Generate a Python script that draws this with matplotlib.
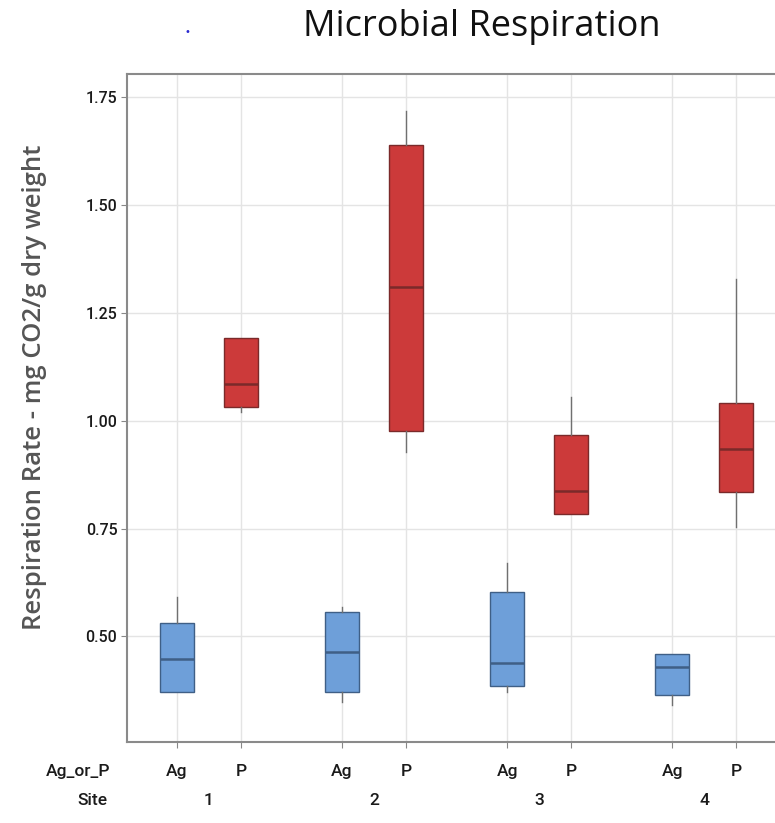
import matplotlib
matplotlib.use("Agg")
import matplotlib.pyplot as plt
from matplotlib.transforms import blended_transform_factory

# ---- data ----
sites = ["1", "2", "3", "4"]
groups = ["Ag", "P"]
# per box: whisker low, Q1, median, Q3, whisker high ; order Ag1, P1, Ag2, P2, ...
whislo = [0.370, 1.021, 0.348, 0.928, 0.371, 0.784, 0.341, 0.754]
q1     = [0.370, 1.032, 0.370, 0.977, 0.385, 0.784, 0.365, 0.835]
med    = [0.447, 1.084, 0.463, 1.309, 0.439, 0.838, 0.430, 0.934]
q3     = [0.532, 1.191, 0.557, 1.639, 0.603, 0.967, 0.458, 1.042]
whishi = [0.592, 1.191, 0.569, 1.718, 0.669, 1.056, 0.458, 1.328]
yticks = [0.50, 0.75, 1.00, 1.25, 1.50, 1.75]

site_gap = 2.58
positions = []
for s in range(len(sites)):
    for g in range(len(groups)):
        positions.append(s * site_gap + g)

fill_colors = {"Ag": "#6e9fd9", "P": "#cc3a3a"}
edge_colors = {"Ag": "#3f5f86", "P": "#7a2a2a"}

tick_font = "Roboto"

fig = plt.figure(figsize=(7.75, 8.23), dpi=100)
ax = fig.add_axes([127/775, 1 - 742/823, 1 - 127/775 + 0.002, (742 - 74)/823])

stats = []
for i in range(len(positions)):
    stats.append(dict(whislo=whislo[i], q1=q1[i], med=med[i], q3=q3[i],
                      whishi=whishi[i], fliers=[]))

for i, st in enumerate(stats):
    g = groups[i % 2]
    ax.bxp([st], positions=[positions[i]], widths=0.53, patch_artist=True,
           showcaps=False, showfliers=False,
           boxprops=dict(facecolor=fill_colors[g], edgecolor=edge_colors[g], linewidth=1.0),
           medianprops=dict(color=edge_colors[g], linewidth=1.8),
           whiskerprops=dict(color="#707070", linewidth=1.0),
           manage_ticks=False, zorder=3)

ax.set_xlim(-0.78, 9.37)
ax.set_ylim(0.255, 1.804)

ax.set_yticks(yticks)
ax.set_yticklabels([f"{v:.2f}" for v in yticks], fontsize=11.5, color="#1a1a1a",
                   family=tick_font, fontweight="medium")
ax.set_xticks(positions)
ax.set_xticklabels([groups[i % 2] for i in range(len(positions))], fontsize=12.5,
                   color="#1a1a1a", family=tick_font, fontweight="medium")
ax.tick_params(axis="x", length=4, color="#888888", pad=12)
ax.tick_params(axis="y", length=4, color="#888888", pad=3)

ax.grid(True, color="#e4e4e4", linewidth=1.0, zorder=0)
ax.set_axisbelow(True)
for side in ["left", "bottom", "top"]:
    ax.spines[side].set_color("#8a8a8a")
    ax.spines[side].set_linewidth(1.5)
ax.spines["right"].set_visible(False)

trans = blended_transform_factory(ax.transData, ax.transAxes)
for s, name in enumerate(sites):
    ax.text(s * site_gap + 0.5, -0.087, name, transform=trans, ha="center", va="center",
            fontsize=12.5, color="#1a1a1a", family=tick_font, fontweight="medium")

ax.text(-0.025, -0.0435, "Ag_or_P", transform=ax.transAxes, ha="right", va="center",
        fontsize=12.5, color="#1a1a1a", family=tick_font, fontweight="medium")
ax.text(-0.030, -0.087, "Site", transform=ax.transAxes, ha="right", va="center",
        fontsize=12.5, color="#1a1a1a", family=tick_font, fontweight="medium")

fig.text(35/775, 1 - 387/823, "Respiration Rate - mg CO2/g dry weight", rotation=90,
         ha="center", va="center", fontsize=18.5, color="#555555",
         family="Open Sans", fontweight="semibold")

fig.text(482/775, 1 - 27/823, "Microbial Respiration", ha="center", va="center",
         fontsize=26, color="#111111", family="Open Sans")
fig.text(187/775, 1 - 32/823, "•", ha="center", va="center", fontsize=7, color="#2a2ad0")

fig.savefig("out.png", dpi=100)
